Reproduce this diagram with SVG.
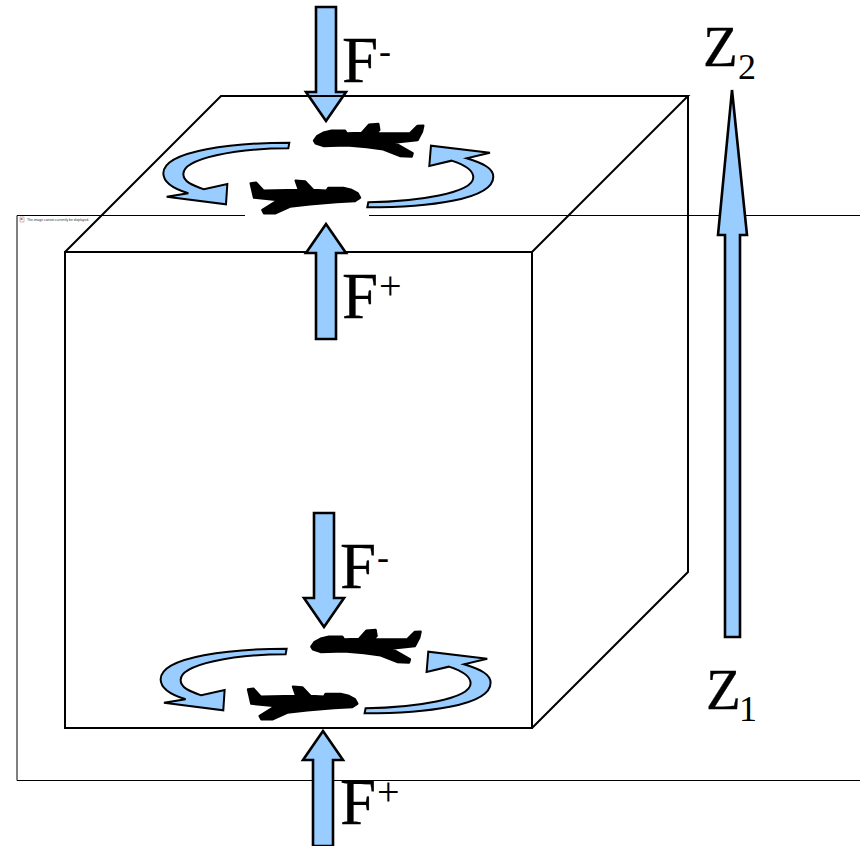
<svg xmlns="http://www.w3.org/2000/svg" width="860" height="846" viewBox="0 0 860 846">
<style>
.a{fill:#99ccff;stroke:#000;stroke-width:2.6;stroke-linejoin:miter}
.s{fill:#99ccff;stroke:#000;stroke-width:6;stroke-linejoin:miter}
.p{fill:#000;stroke:#000;stroke-width:7;stroke-linejoin:round;filter:url(#soft)}
.l{fill:none;stroke:#000;stroke-width:2}
.f{fill:none;stroke:#000;stroke-width:1}
.t{font-family:"Liberation Serif","Times New Roman",serif;font-size:65px;fill:#000;stroke:#000;stroke-width:.3}
.z{font-family:"Liberation Serif","Times New Roman",serif;font-size:57px;fill:#000;stroke:#000;stroke-width:.3}
.u{font-family:"Liberation Serif","Times New Roman",serif;font-size:36px;fill:#000}
.v{font-family:"Liberation Serif","Times New Roman",serif;font-size:40px;fill:#000}
</style>
<defs>
<filter id="soft" x="-5%" y="-10%" width="110%" height="120%"><feGaussianBlur stdDeviation="1.5"/></filter>
<g id="rot">
<path class="p" d="M492 122L502 108L520 98L545 92L585 92L590 100L635 99L657 74L685 72L688 90L678 100L780 100L802 78L820 77L816 95L803 120L733 128L788 160L785 170L750 168L700 148L650 141L590 136L520 138L497 130Z"/>
<path class="p" d="M630 293L623 280L605 270L580 264L535 264L530 272L490 270L465 244L437 242L447 270L340 272L318 248L302 250L312 293L385 300L337 330L342 340L375 340L420 320L480 313L560 306L615 303Z"/>
<path class="s" d="M418 128C260 128 40 150 40 220C40 250 75 268 115 280L50 290L228 313L232 252L162 268C125 255 100 245 100 222C100 175 260 145 415 145Z"/>
<path class="s" d="M652 322C830 322 1030 300 1030 230C1030 205 1000 190 950 175L1020 158L843 137L838 198L905 182C945 195 970 210 970 232C970 280 800 305 655 307Z"/>
</g>
</defs>
<g id="frame">
<path class="f" d="M245 215.5H17V780.5H860M369 215.5H860"/>
<path d="M20 217h4v5h-4z" fill="#fff" stroke="#999" stroke-width="0.6"/>
<path d="M20.5 218h2v2h-2z" fill="#d66"/>
<text x="27" y="221" font-family="Liberation Sans, Arial, sans-serif" font-size="3.4" fill="#333">The image cannot currently be displayed.</text>
</g>
<g id="cube">
<path class="l" d="M65 252H532V728H65ZM65 252L221 96H688L532 252M688 96V572L532 728"/>
</g>
<g id="rotation-top" transform="translate(150 100) scale(.3333)"><use href="#rot"/></g>
<g id="rotation-bottom" transform="translate(147.3 606) scale(.3333)"><use href="#rot"/></g>
<g id="connectors">
<path class="a" d="M316 7H336V92H346L326 121L306 92H316Z"/>
<path class="a" d="M316 339H336V253H346L326 224L306 253H316Z"/>
<path class="a" d="M314 513H334V598H344L324 627L304 598H314Z"/>
<path class="a" d="M313 846H333V760H343L323 731L303 760H313Z"/>
<path class="a" d="M725 637H740V235H747L732 90L718 235H725Z"/>
<path class="l" d="M300 96H352"/>
</g>
<g id="label-f-minus-top"><text class="t" x="342" y="82">F</text><text class="u" x="379" y="63">-</text></g>
<g id="label-f-plus-top"><text class="t" x="342" y="318">F</text><text class="v" x="379" y="299">+</text></g>
<g id="label-f-minus-bottom"><text class="t" x="340" y="588">F</text><text class="u" x="377" y="569">-</text></g>
<g id="label-f-plus-bottom"><text class="t" x="340" y="824">F</text><text class="v" x="377" y="805">+</text></g>
<g id="label-z2"><text class="z" x="703" y="66">Z</text><text class="u" x="738" y="79">2</text></g>
<g id="label-z1"><text class="z" x="706" y="709">Z</text><text class="u" x="739" y="721">1</text></g>
</svg>
